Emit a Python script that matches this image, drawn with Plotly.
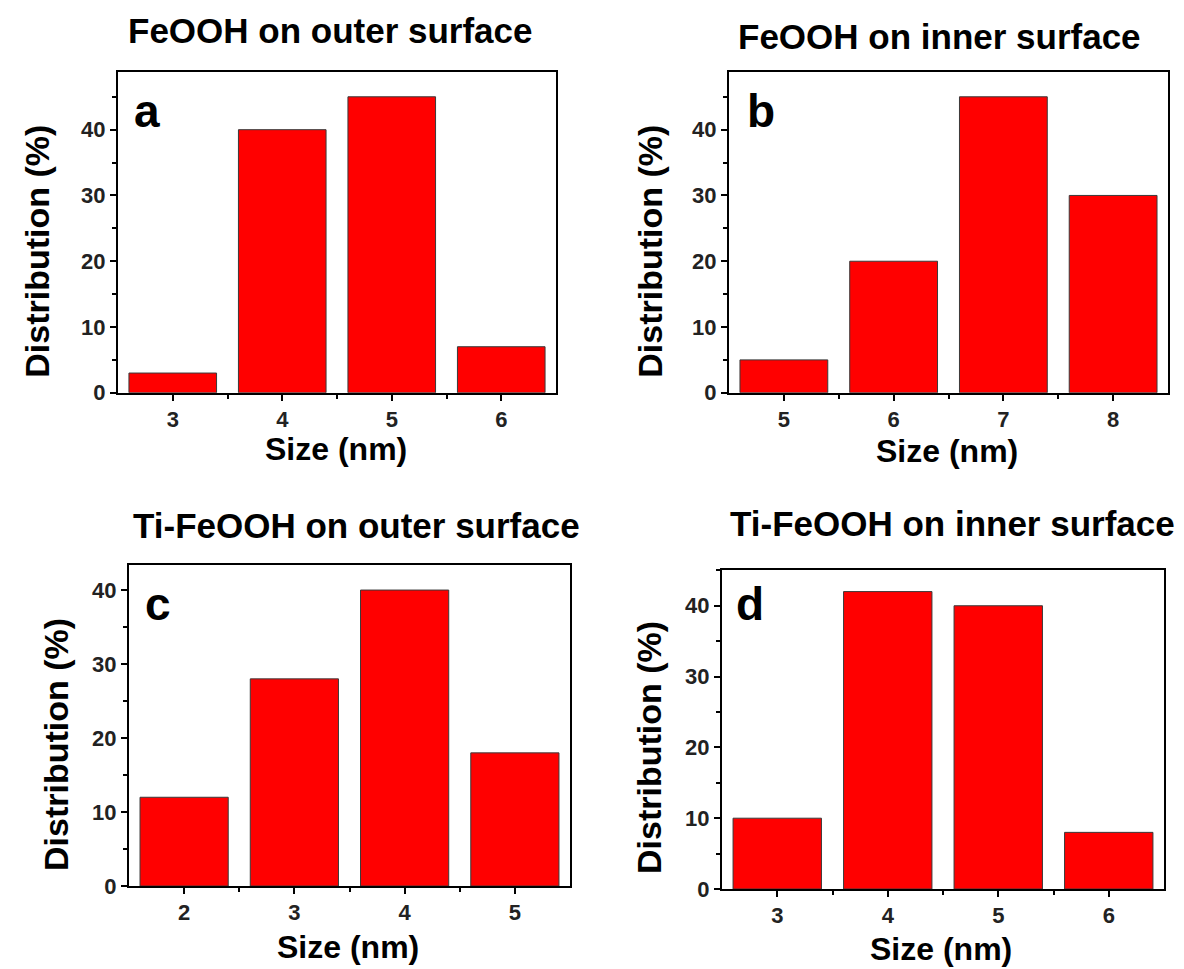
import plotly.graph_objects as go

# ---- data ----
titles = ["FeOOH on outer surface", "FeOOH on inner surface",
          "Ti-FeOOH on outer surface", "Ti-FeOOH on inner surface"]
letters = ["a", "b", "c", "d"]
sizes_a = [3, 4, 5, 6]
dist_a = [3, 40, 45, 7]
sizes_b = [5, 6, 7, 8]
dist_b = [5, 20, 45, 30]
sizes_c = [2, 3, 4, 5]
dist_c = [12, 28, 40, 18]
sizes_d = [3, 4, 5, 6]
dist_d = [10, 42, 40, 8]
y_ticks = [0, 10, 20, 30, 40]
x_title = "Size (nm)"
y_title = "Distribution (%)"

W, H = 1184, 969
FONT = "Liberation Sans, Arial, Helvetica, sans-serif"

# panel boxes in pixels: (left, right, top, bottom), x range, y max
panels = [
    dict(xs=sizes_a, ys=dist_a, box=(110, 548, 65, 390), xr=[2.5, 6.5], ymax=48.75),
    dict(xs=sizes_b, ys=dist_b, box=(721, 1160, 65, 390), xr=[4.5, 8.5], ymax=48.75),
    dict(xs=sizes_c, ys=dist_c, box=(121, 562, 565, 890), xr=[1.5, 5.5], ymax=43.33),
    dict(xs=sizes_d, ys=dist_d, box=(714, 1156, 570, 893), xr=[2.5, 6.5], ymax=45.0),
]
# annotation pixel positions
title_pos = [(322, 23), (931, 29), (349, 525), (944, 523)]
letter_pos = [(139, 104), (753, 104), (150, 604), (742, 604)]
ytitle_pos = [(29, 247), (642, 247), (48, 747), (641, 750)]
xtitle_pos = [(328, 447), (939, 449), (340, 952), (933, 954)]

def px(x):
    return x / W

def py(y):
    return 1 - y / H

fig = go.Figure()
layout = dict(
    width=W, height=H, margin=dict(l=0, r=0, t=0, b=0),
    paper_bgcolor="white", plot_bgcolor="white", showlegend=False,
    font=dict(family=FONT, color="black"),
)
annotations = []
for i, p in enumerate(panels):
    n = "" if i == 0 else str(i + 1)
    l, r, t, b = p["box"]
    fig.add_trace(go.Bar(
        x=p["xs"], y=p["ys"], width=0.8,
        marker=dict(color="#ff0000", line=dict(color="#3a3a3a", width=1)),
        xaxis="x" + n, yaxis="y" + n,
    ))
    layout["xaxis" + n] = dict(
        domain=[px(l), px(r)], range=p["xr"], anchor="y" + n,
        tickmode="array", tickvals=p["xs"], ticktext=[str(v) for v in p["xs"]],
        ticks="outside", ticklen=6, tickwidth=2, tickcolor="black",
        minor=dict(ticks="outside", ticklen=4, tickwidth=2, tickcolor="black",
                   tickmode="array", tickvals=[v + 0.5 for v in p["xs"][:-1]]),
        showline=True, linecolor="black", linewidth=2, mirror=True,
        showgrid=False, zeroline=False, fixedrange=True,
        tickfont=dict(family=FONT, size=22, color="#222", weight="bold"),
    )
    layout["yaxis" + n] = dict(
        domain=[py(b), py(t)], range=[0, p["ymax"]], anchor="x" + n,
        tickmode="array", tickvals=y_ticks, ticktext=[str(v) for v in y_ticks],
        ticks="outside", ticklen=6, tickwidth=2, tickcolor="black",
        minor=dict(ticks="outside", ticklen=4, tickwidth=2, tickcolor="black",
                   tickmode="array", tickvals=[5, 15, 25, 35, 45]),
        showline=True, linecolor="black", linewidth=2, mirror=True,
        showgrid=False, zeroline=False, fixedrange=True,
        tickfont=dict(family=FONT, size=22, color="#222", weight="bold"),
    )
    tx, ty = title_pos[i]
    annotations.append(dict(text=titles[i], x=px(tx), y=py(ty), xref="paper", yref="paper",
                            xanchor="center", yanchor="middle", showarrow=False,
                            font=dict(family=FONT, size=35, color="black", weight="bold")))
    lx, ly = letter_pos[i]
    annotations.append(dict(text=letters[i], x=px(lx), y=py(ly), xref="paper", yref="paper",
                            xanchor="center", yanchor="middle", showarrow=False,
                            font=dict(family=FONT, size=46, color="black", weight="bold")))
    yx, yy = ytitle_pos[i]
    annotations.append(dict(text=y_title, x=px(yx), y=py(yy), xref="paper", yref="paper",
                            xanchor="center", yanchor="middle", showarrow=False, textangle=-90,
                            font=dict(family=FONT, size=34, color="black", weight="bold")))
    xx, xy = xtitle_pos[i]
    annotations.append(dict(text=x_title, x=px(xx), y=py(xy), xref="paper", yref="paper",
                            xanchor="center", yanchor="middle", showarrow=False,
                            font=dict(family=FONT, size=32, color="black", weight="bold")))

layout["annotations"] = annotations
fig.update_layout(**layout)
fig.write_html("out.html")
